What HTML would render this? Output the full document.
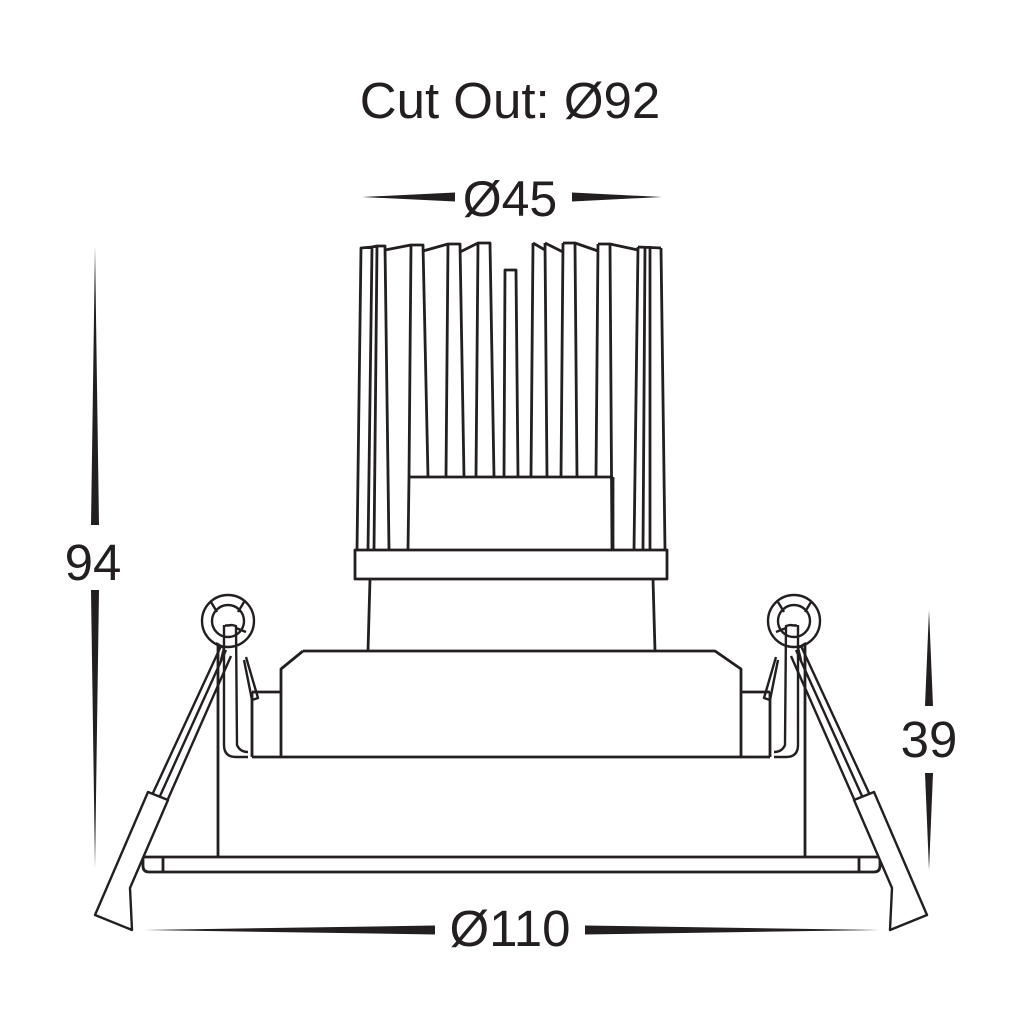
<!DOCTYPE html>
<html><head><meta charset="utf-8"><style>
html,body{margin:0;padding:0;background:#fff}
svg{display:block}
text{font-family:"Liberation Sans",sans-serif;fill:#231f20}
</style></head><body>
<svg width="1024" height="1024" viewBox="0 0 1024 1024" xmlns="http://www.w3.org/2000/svg">
<g fill="none" stroke="#231f20" stroke-width="2.8" stroke-linejoin="round">
<!-- heatsink fins -->
<path d="M357,550 L361,248 L372,247 L368,550 M368,550 L372,247 L377,246 L374,550 M374,550 L377,246 L385,246 L389,550"/>
<path d="M385,250 L411,245 L423,245 L428,477 M411,245 L409,477"/>
<path d="M423,251 L448,244 L460,244 L464,477 M448,244 L446,477"/>
<path d="M460,252 L478,243 L490,243 L494,477 M478,243 L476,477"/>
<path d="M504,477 L505,270 L516,270 L518,477"/>
<path d="M545,250 L533,243 M533,243 L531,477 M545,243 L547,477 M545,243 L563,252"/>
<path d="M563,243 L561,477 M575,244 L577,477 M563,243 L575,243 L598,251"/>
<path d="M598,244 L596,477 M610,244 L612,550 M598,244 L610,244 L638,250"/>
<path d="M638,247 L634,550 M645,246 L643,550 M650,246 L650,550 M661,248 L665,550 M638,247 L661,248"/>
<path d="M409,477 L613,477"/>
<path d="M409,477 L408,550 M613,477 L613,550"/>
<rect x="355" y="550" width="312" height="29"/>
<path d="M370,579 L368,651 M653,579 L655,651"/>
<!-- housing -->
<path d="M303,651 L715,651 L741,669 L741,757 M303,651 L281,669 L281,757"/>
<path d="M252,757 L770,757"/>
<path d="M252,692 L252,757 M281,692 L252,692 M770,692 L770,757 M741,692 L770,692"/>
<path d="M218,627 L218,857 M805,627 L805,857"/>
<path d="M143,857 L880,857 L880,866 Q880,872 874,872 L149,872 Q143,872 143,866 Z"/>
<path d="M163,857 L163,872 M859,857 L859,872"/>
</g>
<!-- left clip, mirrored for right -->
<g id="clip" fill="none" stroke="#231f20" stroke-width="2.4" stroke-linejoin="round">
<circle cx="228" cy="621" r="26" fill="#fff"/>
<circle cx="228" cy="621" r="16"/>
<path d="M211,602 L217,612 M244,602 L238,612 M246,632 L236,628"/>
<path d="M224,625 L224,745 Q224,757 236,757 L248,757 M224,625 Q224,626 232,625 L236,626 L237,745 Q240,752 248,752"/>
<path d="M246,657 L258,698 L252,700 L244,660"/>
<path d="M221,646 L153,793 M226,650 L160,796 M231,656 L168,799"/>
<path d="M216,643 L224,648 L221,660"/>
<path d="M148,792 L168,800 L130,888 L132,930 L95,915 Z" fill="#fff"/>
</g>
<use href="#clip" transform="translate(1022,0) scale(-1,1)"/>
<!-- dimensions -->
<g fill="#231f20">
<polygon points="95,246 99,525 91,525"/>
<polygon points="95,868 99,590 91,590"/>
<polygon points="929,610 933,706 925,706"/>
<polygon points="929,870 933,773 925,773"/>
<polygon points="362,197 455,192.5 455,201.5"/>
<polygon points="662,197 572,192.5 572,201.5"/>
<polygon points="145,930 435,925.5 435,934.5"/>
<polygon points="880,930 585,925.5 585,934.5"/>
</g>
<text x="510" y="118" font-size="51" text-anchor="middle">Cut Out: Ø92</text>
<text x="510" y="216" font-size="50" text-anchor="middle">Ø45</text>
<text x="93" y="580" font-size="51" text-anchor="middle">94</text>
<text x="929" y="757" font-size="51" text-anchor="middle">39</text>
<text x="510" y="946" font-size="51" text-anchor="middle">Ø110</text>
</svg>
</body></html>
